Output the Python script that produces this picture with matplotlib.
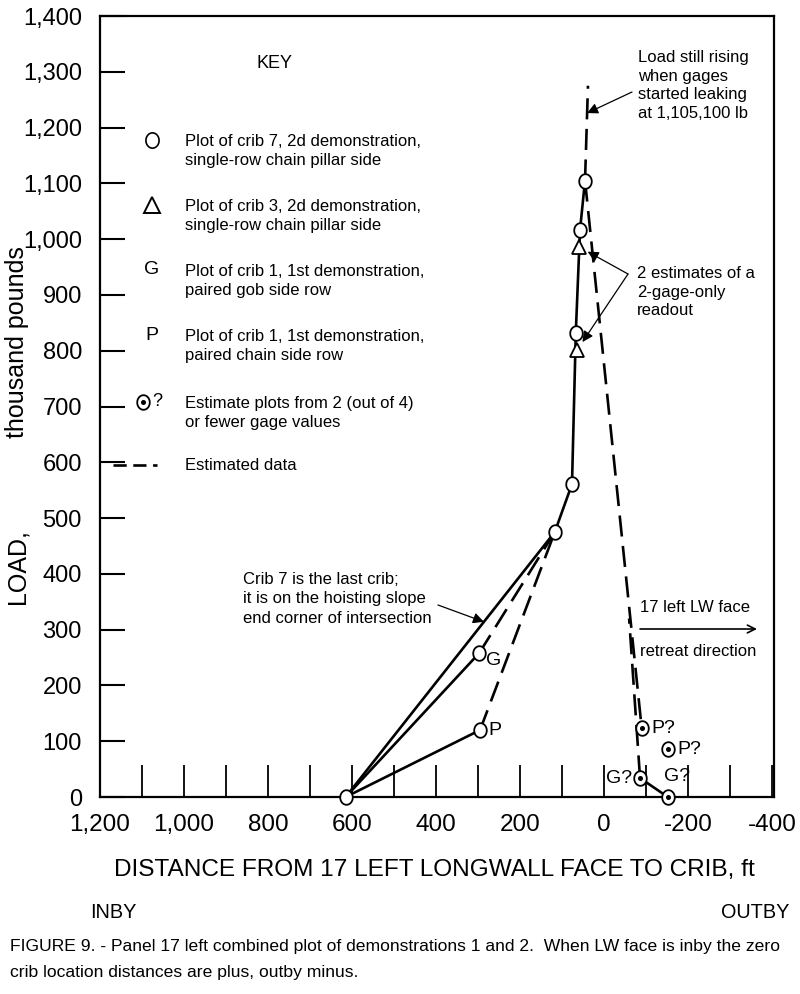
import matplotlib
matplotlib.use("Agg")
import matplotlib.pyplot as plt
from matplotlib import font_manager
from matplotlib.path import Path
import numpy as np

# ---------------- data ----------------
# Crib 7, 2nd demonstration (circles)
crib7_dist = [615, 117, 76, 67, 57, 45]
crib7_load = [0, 475, 561, 832, 1016, 1105]
# Crib 3, 2nd demonstration (triangles)
crib3_dist = [64, 59]
crib3_load = [801, 986]
# Crib 1, 1st demonstration, gob side (G)
gob_dist = [615, 297, 117]
gob_load = [0, 258, 475]
# Crib 1, 1st demonstration, chain side (P)
chain_dist = [615, 295, 117]
chain_load = [0, 120, 475]
# estimated continuation above the peak
rise_dist = [45, 38]
rise_load = [1105, 1275]
# estimated decline after peak (to P?)
decl_p_dist = [45, -90]
decl_p_load = [1105, 123]
# estimated branch to G?
decl_g_dist = [-60, -86]
decl_g_load = [320, 34]
tail_g_dist = [-86, -152]
tail_g_load = [34, 0]
# estimate plots (2 or fewer gage values)
est_dist = [-90, -152, -86, -152]
est_load = [123, 86, 34, 0]
est_labels = ["P?", "P?", "G?", "G?"]

x_ticks = list(range(1200, -401, -100))
x_ticklabels = ["1,200", "", "1,000", "", "800", "", "600", "", "400", "", "200", "",
                "0", "", "-200", "", "-400"]
y_ticks = list(range(0, 1401, 100))
y_ticklabels = ["0", "100", "200", "300", "400", "500", "600", "700", "800", "900",
                "1,000", "1,100", "1,200", "1,300", "1,400"]

# ---------------- fonts ----------------
names = {f.name for f in font_manager.fontManager.ttflist}
HAS_NARROW = "Liberation Sans Narrow" in names
SANS = ["Liberation Sans", "DejaVu Sans"]
NARROW = ["Liberation Sans Narrow", "Liberation Sans", "DejaVu Sans"]
plt.rcParams["font.family"] = SANS


def nfs(size_plain):
    """font size for condensed texts: given in Liberation Sans points"""
    return size_plain / 0.82 if HAS_NARROW else size_plain


# slightly tall open circle, as drawn in the original
_t = np.linspace(0, 2 * np.pi, 60)
OVAL = Path(np.column_stack([0.86 * np.cos(_t), np.sin(_t)]), closed=True)

W, H = 800, 994
fig = plt.figure(figsize=(8, 9.94), dpi=100)
L, R, T, B = 100, 774, 16, 797
ax = fig.add_axes([L / W, 1 - B / H, (R - L) / W, (B - T) / H])
ax.set_xlim(1200, -405)
ax.set_ylim(0, 1400)

for s in ax.spines.values():
    s.set_linewidth(1.6)

ax.set_xticks(x_ticks)
ax.set_xticklabels(x_ticklabels, family=NARROW, fontsize=nfs(17.5))
ax.set_yticks(y_ticks)
ax.set_yticklabels(y_ticklabels, fontsize=17)
ax.tick_params(axis="x", direction="in", length=23, width=1.3, pad=12)
ax.tick_params(axis="y", direction="in", length=18, width=1.5, pad=13)


def pa(px, py):
    """pixel position of the reference -> axes fraction"""
    return ((px - L) / (R - L), (B - py) / (B - T))


LW = 1.9
DASH = (8, 3.6)
MS = 10.5
# lines
ax.plot(crib7_dist, crib7_load, color="k", lw=LW, zorder=2)
ax.plot(gob_dist[:2], gob_load[:2], color="k", lw=LW, zorder=2)
ax.plot(gob_dist[1:], gob_load[1:], color="k", lw=LW, ls=(0, DASH), zorder=2)
ax.plot(chain_dist[:2], chain_load[:2], color="k", lw=LW, zorder=2)
ax.plot(chain_dist[1:], chain_load[1:], color="k", lw=LW, ls=(0, DASH), zorder=2)
ax.plot(rise_dist, rise_load, color="k", lw=LW, ls=(0, DASH), zorder=2)
ax.plot(decl_p_dist, decl_p_load, color="k", lw=LW, ls=(0, DASH), zorder=2)
ax.plot(decl_g_dist, decl_g_load, color="k", lw=LW, ls=(6, DASH), zorder=2)
ax.plot(tail_g_dist, tail_g_load, color="k", lw=LW, zorder=2)

# markers
mk = dict(ls="none", mfc="white", mec="k", mew=1.3, zorder=4, clip_on=False)
ax.plot(crib7_dist, crib7_load, marker=OVAL, ms=MS, **mk)
ax.plot(gob_dist[1:2], gob_load[1:2], marker=OVAL, ms=MS, **mk)
ax.plot(chain_dist[1:2], chain_load[1:2], marker=OVAL, ms=MS, **mk)
ax.plot(crib3_dist, crib3_load, marker="^", ms=10, **mk)
ax.plot(est_dist, est_load, marker=OVAL, ms=MS, **mk)
ax.plot(est_dist, est_load, marker="o", ms=2.6, ls="none", color="k", zorder=5,
        clip_on=False)

# point letters
lab_kw = dict(fontsize=14, textcoords="offset points", va="center", zorder=6)
ax.annotate("G", (gob_dist[1], gob_load[1]), xytext=(5, -5), ha="left", **lab_kw)
ax.annotate("P", (chain_dist[1], chain_load[1]), xytext=(6, 0), ha="left", **lab_kw)
est_offsets = [(7, 0), (7, 0), (-6, 0), (-3, 15)]
est_ha = ["left", "left", "right", "left"]
for d, l, t, o, h in zip(est_dist, est_load, est_labels, est_offsets, est_ha):
    ax.annotate(t, (d, l), xytext=o, ha=h, **lab_kw)

# ---------------- annotations ----------------
AFS = 12
arr = dict(arrowstyle="-|>", color="k", lw=0.9, mutation_scale=16, shrinkA=0, shrinkB=0)

ax.text(*pa(638, 85.5), "Load still rising\nwhen gages\nstarted leaking\nat 1,105,100 lb",
        transform=ax.transAxes, fontsize=AFS, ha="left", va="center", linespacing=1.3)
tip_y = 1226
tip_x = float(np.interp(tip_y, rise_load, rise_dist))
ax.annotate("", xy=(tip_x, tip_y), xytext=pa(632, 92), textcoords="axes fraction",
            arrowprops=arr)

ax.text(*pa(637, 292), "2 estimates of a\n2-gage-only\nreadout",
        transform=ax.transAxes, fontsize=AFS, ha="left", va="center", linespacing=1.3)
for d, l in zip(crib3_dist, crib3_load):
    ax.annotate("", xy=(d, l), xytext=pa(628, 274), textcoords="axes fraction",
                arrowprops=dict(arr, shrinkB=7))

ax.text(*pa(243, 599), "Crib 7 is the last crib;\nit is on the hoisting slope\nend corner of intersection",
        transform=ax.transAxes, fontsize=AFS, ha="left", va="center", linespacing=1.4)
cy = 314
cx = float(np.interp(cy, crib7_load[:2], crib7_dist[:2]))
ax.annotate("", xy=(cx, cy), xytext=pa(438, 605), textcoords="axes fraction",
            arrowprops=arr)

ax.text(*pa(640, 607), "17 left LW face", transform=ax.transAxes, fontsize=AFS,
        ha="left", va="center")
ax.text(*pa(640, 651), "retreat direction", transform=ax.transAxes, fontsize=AFS,
        ha="left", va="center")
ax.annotate("", xy=pa(757, 629), xytext=pa(640, 629), xycoords="axes fraction",
            textcoords="axes fraction",
            arrowprops=dict(arrowstyle="->", color="k", lw=1.2, mutation_scale=14,
                            shrinkA=0, shrinkB=0))

# ---------------- key ----------------
ax.text(*pa(275, 63), "KEY", transform=ax.transAxes, fontsize=13, ha="center", va="center")
key_texts = [
    "Plot of crib 7, 2d demonstration,\nsingle-row chain pillar side",
    "Plot of crib 3, 2d demonstration,\nsingle-row chain pillar side",
    "Plot of crib 1, 1st demonstration,\npaired gob side row",
    "Plot of crib 1, 1st demonstration,\npaired chain side row",
    "Estimate plots from 2 (out of 4)\nor fewer gage values",
]
key_y = [140, 205, 270, 335, 402]
for t, yy in zip(key_texts, key_y):
    ax.text(*pa(185, yy + 11), t, transform=ax.transAxes, fontsize=AFS, ha="left",
            va="center", linespacing=1.32)
ax.plot(*pa(152, 140), transform=ax.transAxes, marker=OVAL, ms=11, mfc="white",
        mec="k", mew=1.2, ls="none")
ax.plot(*pa(152, 205), transform=ax.transAxes, marker="^", ms=11, mfc="white",
        mec="k", mew=1.4, ls="none")
ax.text(*pa(152, 270), "G", transform=ax.transAxes, fontsize=14, ha="center", va="center")
ax.text(*pa(152, 335), "P", transform=ax.transAxes, fontsize=14, ha="center", va="center")
ax.plot(*pa(143, 402), transform=ax.transAxes, marker=OVAL, ms=MS, mfc="white",
        mec="k", mew=1.3, ls="none")
ax.plot(*pa(143, 402), transform=ax.transAxes, marker="o", ms=2.6, color="k", ls="none")
ax.text(*pa(152, 402), "?", transform=ax.transAxes, fontsize=13, ha="left", va="center")
kx0, ky0 = pa(113, 465)
kx1, _ = pa(157, 465)
ax.plot([kx0, kx1], [ky0, ky0], transform=ax.transAxes, color="k", lw=LW,
        ls=(0, (5, 2.5)), clip_on=False)
ax.text(*pa(185, 465), "Estimated data", transform=ax.transAxes, fontsize=AFS,
        ha="left", va="center")

# ---------------- outer texts ----------------
fig.text(17 / W, 1 - 567 / H, "LOAD,", rotation=90, fontsize=18,
         ha="center", va="center")
fig.text(17 / W, 1 - 342 / H, "thousand pounds", rotation=90, fontsize=18,
         ha="center", va="center")
fig.text(434 / W, 1 - 870 / H, "DISTANCE FROM 17 LEFT LONGWALL FACE TO CRIB, ft",
         family=NARROW, fontsize=nfs(17.6), ha="center", va="center")
fig.text(113 / W, 1 - 913 / H, "INBY", family=NARROW, fontsize=nfs(14.3),
         ha="center", va="center")
fig.text(755 / W, 1 - 913 / H, "OUTBY", family=NARROW, fontsize=nfs(14.3),
         ha="center", va="center")
fig.text(10 / W, 1 - 947 / H,
         "FIGURE 9. - Panel 17 left combined plot of demonstrations 1 and 2.  "
         "When LW face is inby the zero",
         family=NARROW, fontsize=nfs(12.6), ha="left", va="center")
fig.text(10 / W, 1 - 973 / H, "crib location distances are plus, outby minus.",
         family=NARROW, fontsize=nfs(12.6), ha="left", va="center")

fig.savefig("out.png", dpi=100)
